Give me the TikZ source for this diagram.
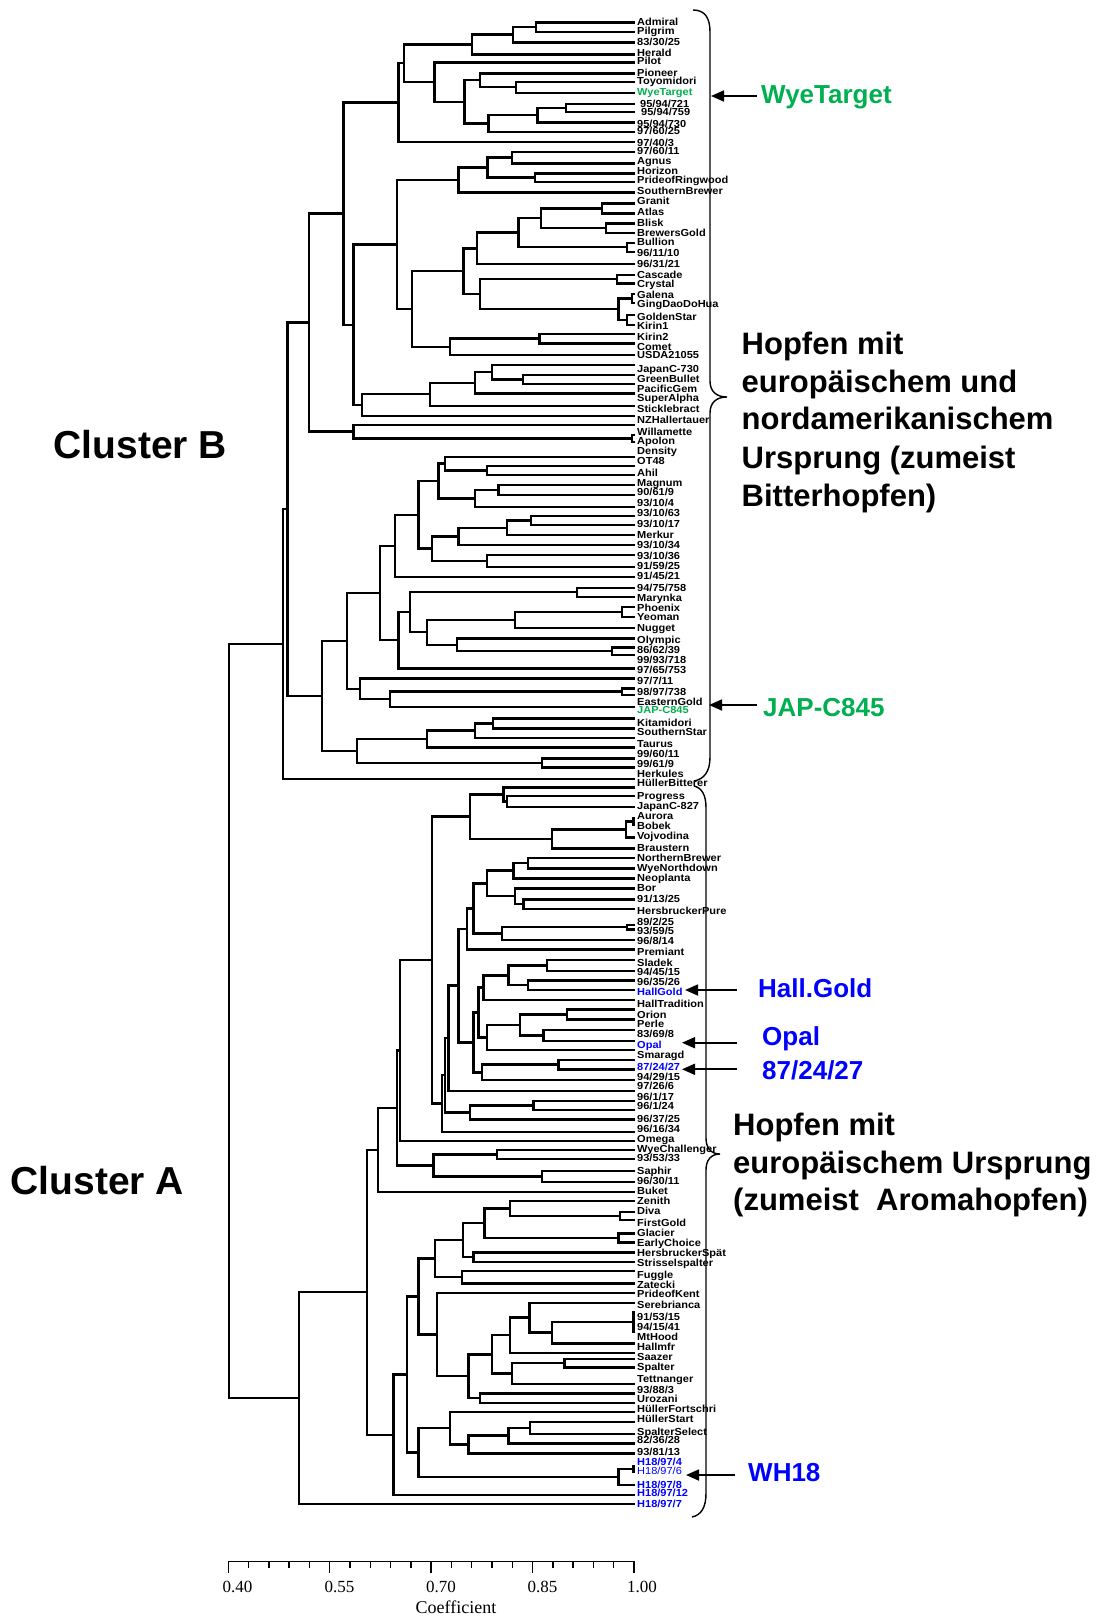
\documentclass[tikz,border=0pt]{standalone}
\usepackage{fontspec}
\setmainfont{Liberation Sans}
\newfontfamily\labf[FakeStretch=1.08]{Liberation Sans}
\newfontfamily\serf{Liberation Serif}
\usetikzlibrary{calc,arrows.meta}
\definecolor{hgreen}{RGB}{0,176,80}
\definecolor{hblue}{RGB}{0,0,255}
\newcommand{\jn}[4]{%
  \draw[dline] let \p1=(#3), \p2=(#4) in (#3) -- (#2pt,\y1) -- (#2pt,\y2) -- (#4);
  \path let \p1=(#3), \p2=(#4) in coordinate (#1) at (#2pt,{0.5*\y1+0.5*\y2});
}
\newcommand{\lf}[2]{\coordinate (#1) at (635,#2);}
\newcommand{\lb}[4][]{\node[lab,#1] (#2) at (637,#3) {#4};}
\begin{document}
\begin{tikzpicture}[x=1pt,y=-1pt,
  dline/.style={line width=2.4pt},
  lab/.style={anchor=west,inner sep=0pt,font=\labf\bfseries\fontsize{10.2}{10.2}\selectfont,text height=7.3pt,text depth=0pt},
  bigl/.style={anchor=west,inner sep=0pt,font=\bfseries\fontsize{26}{26}\selectfont,text height=18.6pt,text depth=0pt},
  desc/.style={anchor=west,inner sep=0pt,font=\bfseries\fontsize{31}{31}\selectfont,text height=22.2pt,text depth=0pt},
  clus/.style={anchor=west,inner sep=0pt,font=\bfseries\fontsize{39}{39}\selectfont,text height=27.9pt,text depth=0pt},
  axl/.style={anchor=center,inner sep=0pt,font=\serf\fontsize{17}{17}\selectfont,text height=11.5pt,text depth=0pt},
  brc/.style={line width=1.4pt},
  harr/.style={line width=1.7pt,-{Triangle[length=13pt,width=11pt]}}]
\useasboundingbox (0,0) rectangle (1102,1617);
% ---------- leaves cluster B
\lf{b1}{22.3}\lf{b2}{31.7}\lf{b3}{42.3}\lf{b4}{54.3}\lf{b5}{62.3}\lf{b6}{73.3}
\lf{b7}{81.7}\lf{b8}{92.7}\lf{b9}{104}\lf{b10}{111.7}\lf{b11}{122.3}\lf{b12}{131.7}
\lf{b13}{141.7}\lf{b14}{151.7}\lf{b15}{163.3}\lf{b16}{173.3}\lf{b17}{181.7}\lf{b18}{192.3}
\lf{b19}{203.3}\lf{b20}{213.3}\lf{b21}{223.3}\lf{b22}{232.7}\lf{b23}{242.7}\lf{b24}{251.7}
\lf{b25}{264}\lf{b26}{275}\lf{b27}{283.3}\lf{b28}{294}\lf{b29}{303}\lf{b30}{315}
\lf{b31}{325}\lf{b32}{334}\lf{b33}{343.3}\lf{b34}{355}\lf{b35}{365}\lf{b36}{375}
\lf{b37}{384}\lf{b38}{393.3}\lf{b39}{405.7}\lf{b40}{416}\lf{b41}{425}\lf{b42}{435}
\lf{b43}{441.7}\lf{b44}{456.7}\lf{b45}{466}\lf{b46}{475}\lf{b47}{485}\lf{b48}{495}
\lf{b49}{506.7}\lf{b50}{516}\lf{b51}{525}\lf{b52}{535}\lf{b53}{545}\lf{b54}{555}
\lf{b55}{566.7}\lf{b56}{576.7}\lf{b57}{587.7}\lf{b58}{596.7}\lf{b59}{606.7}\lf{b60}{616.7}
\lf{b61}{627.7}\lf{b62}{638.3}\lf{b63}{647.3}\lf{b64}{655}\lf{b65}{668.3}\lf{b66}{678.3}
\lf{b67}{688.3}\lf{b68}{695}\lf{b69}{706.7}\lf{b70}{718.3}\lf{b71}{728.3}\lf{b72}{737.7}
\lf{b73}{747.3}\lf{b74}{758.3}\lf{b75}{767.3}\lf{b76}{779}
% ---------- leaves cluster A
\lf{a1}{787.3}\lf{a2}{796}\lf{a3}{806.7}\lf{a4}{818}\lf{a5}{825}\lf{a6}{837.3}
\lf{a7}{848.3}\lf{a8}{857.7}\lf{a9}{868.3}\lf{a10}{878.3}\lf{a11}{888.3}\lf{a12}{899.3}
\lf{a13}{909}\lf{a14}{925}\lf{a15}{929.3}\lf{a16}{940}\lf{a17}{949.3}\lf{a18}{960}
\lf{a19}{971}\lf{a20}{980.3}\lf{a21}{990}\lf{a22}{1000}\lf{a23}{1009.3}\lf{a24}{1019.3}
\lf{a25}{1030}\lf{a26}{1040.7}\lf{a27}{1050}\lf{a28}{1060}\lf{a29}{1069.3}\lf{a30}{1080}
\lf{a31}{1090.7}\lf{a32}{1100.7}\lf{a33}{1110}\lf{a34}{1119.3}\lf{a35}{1131.7}\lf{a36}{1140.7}
\lf{a37}{1150}\lf{a38}{1159}\lf{a39}{1171}\lf{a40}{1181.7}\lf{a41}{1191.7}\lf{a42}{1201}
\lf{a43}{1211.7}\lf{a44}{1220}\lf{a45}{1233.3}\lf{a46}{1242.3}\lf{a47}{1252.3}\lf{a48}{1261.7}
\lf{a49}{1271}\lf{a50}{1283.3}\lf{a51}{1292.7}\lf{a52}{1302.7}\lf{a53}{1311.7}\lf{a54}{1331.7}
\lf{a55}{1343.3}\lf{a56}{1352.7}\lf{a57}{1359}\lf{a58}{1367.3}\lf{a59}{1384}\lf{a60}{1393.3}
\lf{a61}{1402.7}\lf{a62}{1411.7}\lf{a63}{1421.7}\lf{a64}{1434}\lf{a65}{1443.3}\lf{a66}{1453.3}
\lf{a67}{1466}\lf{a68}{1471.7}\lf{a69}{1485}\lf{a70}{1495}\lf{a71}{1504}
% ---------- tree cluster B
\jn{n1}{536}{b1}{b2}\jn{n2}{512.7}{n1}{b3}\jn{n3}{471.7}{n2}{b4}
\jn{n4}{515.7}{b7}{b8}\jn{n5}{480}{b6}{n4}\jn{n6}{566}{b9}{b10}
\jn{n7}{537.3}{n6}{b11}\jn{n8}{488.3}{n7}{b12}\jn{n9}{464.3}{n5}{n8}
\jn{n10}{434.3}{b5}{n9}\jn{n11}{404}{n3}{n10}\jn{n12}{398.3}{n11}{b13}
\jn{n13}{511.7}{b14}{b15}\jn{n14}{535}{b16}{b17}\jn{n15}{487.3}{n13}{n14}
\jn{n16}{458.3}{n15}{b18}\jn{n17}{601.7}{b19}{b20}\jn{n18}{606}{b21}{b22}
\jn{n19}{541}{n17}{n18}\jn{n20}{626.7}{b23}{b24}\jn{n21}{518.3}{n19}{n20}
\jn{n22}{476.7}{n21}{b25}\jn{n23}{616.7}{b26}{b27}\jn{n24}{631.7}{b28}{b29}
\jn{n25}{626.7}{b30}{b31}\jn{n26}{618.3}{n24}{n25}\jn{n27}{480}{n23}{n26}
\jn{n28}{463.3}{n22}{n27}\jn{n29}{539.3}{b32}{b33}\jn{n30}{450}{n29}{b34}
\jn{n31}{411.7}{n28}{n30}\jn{n32}{396.7}{n16}{n31}\jn{n33}{522.7}{b36}{b37}
\jn{n34}{491.7}{b35}{n33}\jn{n35}{475}{n34}{b38}\jn{n36}{430}{n35}{b39}
\jn{n37}{361.7}{n36}{b40}\jn{n38}{353.3}{n32}{n37}\jn{n39}{343.3}{n12}{n38}
\jn{n40}{631.7}{b42}{b43}\jn{n41}{353.3}{b41}{n40}\jn{n42}{309}{n39}{n41}
\jn{n43}{486.7}{b45}{b46}\jn{n44}{445}{b44}{n43}\jn{n45}{498.3}{b47}{b48}
\jn{n46}{475}{n45}{b49}\jn{n47}{438.3}{n44}{n46}\jn{n48}{531}{b50}{b51}
\jn{n49}{506.7}{n48}{b52}\jn{n50}{458.3}{n49}{b53}\jn{n51}{486.7}{b54}{b55}
\jn{n52}{431.7}{n50}{n51}\jn{n53}{418.3}{n47}{n52}\jn{n54}{395}{n53}{b56}
\jn{n55}{576.7}{b57}{b58}\jn{n56}{621.7}{b59}{b60}\jn{n57}{515}{n56}{b61}
\jn{n58}{611.7}{b63}{b64}\jn{n59}{456.7}{b62}{n58}\jn{n60}{426.7}{n57}{n59}
\jn{n61}{410}{n55}{n60}\jn{n62}{398.3}{n61}{b65}\jn{n63}{380}{n54}{n62}
\jn{n64}{621.7}{b67}{b68}\jn{n65}{390}{n64}{b69}\jn{n66}{360}{b66}{n65}
\jn{n67}{346.7}{n63}{n66}\jn{n68}{492.7}{b70}{b71}\jn{n69}{475}{n68}{b72}
\jn{n70}{426.7}{n69}{b73}\jn{n71}{541.7}{b74}{b75}\jn{n72}{356.7}{n70}{n71}
\jn{n73}{322}{n67}{n72}\jn{n74}{287.5}{n42}{n73}\jn{nB}{283}{n74}{b76}
% ---------- tree cluster A
\jn{m1}{506.7}{a2}{a3}\jn{m2}{503.3}{a1}{m1}\jn{m3}{633.3}{a4}{a5}
\jn{m4}{626}{m3}{a6}\jn{m5}{551.7}{m4}{a7}\jn{m6}{470}{m2}{m5}
\jn{m7}{527.7}{a8}{a9}\jn{m8}{513.3}{m7}{a10}\jn{m9}{523.3}{a12}{a13}
\jn{m10}{515}{a11}{m9}\jn{m11}{486.7}{m8}{m10}\jn{m12}{626.7}{a14}{a15}
\jn{m13}{501.7}{m12}{a16}\jn{m14}{473.3}{m11}{m13}\jn{m15}{466.7}{m14}{a17}
\jn{m16}{546.7}{a18}{a19}\jn{m17}{527.7}{a20}{a21}\jn{m18}{508.3}{m16}{m17}
\jn{m19}{483.3}{m18}{a22}\jn{m20}{566.7}{a23}{a24}\jn{m21}{543.3}{a25}{a26}
\jn{m22}{520}{m20}{m21}\jn{m23}{486.7}{m22}{a27}\jn{m24}{478.3}{m19}{m23}
\jn{m25}{558.3}{a28}{a29}\jn{m26}{481.7}{m25}{a30}\jn{m27}{473.3}{m24}{m26}
\jn{m28}{458.3}{m15}{m27}\jn{m29}{448.3}{m28}{a31}\jn{m30}{533.3}{a32}{a33}
\jn{m31}{470}{m30}{a34}\jn{m32}{445}{m29}{m31}\jn{m33}{441.7}{m32}{a35}
\jn{m34}{431.7}{m6}{m33}\jn{m35}{400}{m34}{a36}\jn{m36}{496.7}{a37}{a38}
\jn{m37}{541.7}{a39}{a40}\jn{m38}{433.3}{m36}{m37}\jn{m39}{396.7}{m35}{m38}
\jn{m40}{377.7}{m39}{a41}
\jn{m41}{620}{a43}{a44}\jn{m42}{510}{a42}{m41}\jn{m43}{618.3}{a45}{a46}
\jn{m44}{484.3}{m42}{m43}\jn{m45}{473.3}{a47}{a48}\jn{m46}{462.7}{m44}{m45}
\jn{m47}{461.7}{a49}{a50}\jn{m48}{435}{m46}{m47}\jn{m49}{633.3}{a53}{a54}
\jn{m50}{551.7}{m49}{a55}\jn{m51}{529.3}{a52}{m50}\jn{m52}{510}{m51}{a56}
\jn{m53}{564.3}{a57}{a58}\jn{m54}{511.7}{m53}{a59}\jn{m55}{491.7}{m52}{m54}
\jn{m56}{480}{a60}{a61}\jn{m57}{468.3}{m55}{m56}\jn{m58}{436.7}{a51}{m57}
\jn{m59}{418.3}{m48}{m58}\jn{m60}{530}{a63}{a64}\jn{m61}{508.3}{m60}{a65}
\jn{m62}{468.3}{m61}{a66}\jn{m63}{450}{a62}{m62}\jn{m64}{633.3}{a67}{a68}
\jn{m65}{618.3}{m64}{a69}\jn{m66}{418.3}{m63}{m65}\jn{m67}{406.7}{m59}{m66}
\jn{m68}{393.3}{m67}{a70}\jn{m69}{366.7}{m40}{m68}\jn{nA}{299}{m69}{a71}
\jn{root}{229}{nB}{nA}
% ---------- labels cluster B
\lb{t1}{22.3}{Admiral}\lb{t2}{30.7}{Pilgrim}\lb{t3}{42.3}{83/30/25}\lb{t4}{53.3}{Herald}
\lb{t5}{61}{Pilot}\lb{t6}{72.7}{Pioneer}\lb{t7}{80.7}{Toyomidori}
\lb[text=hgreen]{t8}{91.7}{WyeTarget}
\node[lab] (t9) at (640,104) {95/94/721};\node[lab] (t10) at (641,111.7) {95/94/759};
\lb{t11}{123.5}{95/94/730}\lb{t12}{130.7}{97/60/25}\lb{t13}{142.7}{97/40/3}
\lb{t14}{151}{97/60/11}\lb{t15}{161}{Agnus}\lb{t16}{170.7}{Horizon}
\lb{t17}{180}{PrideofRingwood}\lb{t18}{190.7}{SouthernBrewer}\lb{t19}{200.7}{Granit}
\lb{t20}{212.3}{Atlas}\lb{t21}{223.3}{Blisk}\lb{t22}{232.7}{BrewersGold}
\lb{t23}{242.3}{Bullion}\lb{t24}{252.7}{96/11/10}\lb{t25}{264}{96/31/21}
\lb{t26}{275.3}{Cascade}\lb{t27}{284.3}{Crystal}\lb{t28}{295}{Galena}
\lb{t29}{304.3}{GingDaoDoHua}\lb{t30}{316.7}{GoldenStar}\lb{t31}{326}{Kirin1}
\lb{t32}{336.7}{Kirin2}\lb{t33}{346.7}{Comet}\lb{t34}{355}{USDA21055}
\lb{t35}{369.3}{JapanC-730}\lb{t36}{379.3}{GreenBullet}\lb{t37}{389.3}{PacificGem}
\lb{t38}{398.3}{SuperAlpha}\lb{t39}{409}{Sticklebract}\lb{t40}{420}{NZHallertauer}
\lb{t41}{431.7}{Willamette}\lb{t42}{440.7}{Apolon}\lb{t43}{450.7}{Density}
\lb{t44}{460.7}{OT48}\lb{t45}{473.3}{Ahil}\lb{t46}{483.3}{Magnum}
\lb{t47}{492.3}{90/61/9}\lb{t48}{502.7}{93/10/4}\lb{t49}{513.3}{93/10/63}
\lb{t50}{524}{93/10/17}\lb{t51}{535}{Merkur}\lb{t52}{545}{93/10/34}
\lb{t53}{555.7}{93/10/36}\lb{t54}{566}{91/59/25}\lb{t55}{576}{91/45/21}
\lb{t56}{587.7}{94/75/758}\lb{t57}{597.7}{Marynka}\lb{t58}{607.7}{Phoenix}
\lb{t59}{616.7}{Yeoman}\lb{t60}{627.7}{Nugget}\lb{t61}{640}{Olympic}
\lb{t62}{650}{86/62/39}\lb{t63}{660}{99/93/718}\lb{t64}{670}{97/65/753}
\lb{t65}{680.7}{97/7/11}\lb{t66}{691.7}{98/97/738}\lb{t67}{701.7}{EasternGold}
\lb[text=hgreen]{t68}{710}{JAP-C845}\lb{t69}{723.3}{Kitamidori}\lb{t70}{732.3}{SouthernStar}
\lb{t71}{744}{Taurus}\lb{t72}{754.3}{99/60/11}\lb{t73}{764}{99/61/9}\lb{t74}{774.3}{Herkules}
% ---------- labels cluster A
\lb{s1}{783.3}{HüllerBitterer}\lb{s2}{796}{Progress}\lb{s3}{806}{JapanC-827}
\lb{s4}{816}{Aurora}\lb{s5}{826}{Bobek}\lb{s6}{836}{Vojvodina}\lb{s7}{848.3}{Braustern}
\lb{s8}{858.3}{NorthernBrewer}\lb{s9}{868.3}{WyeNorthdown}\lb{s10}{878.3}{Neoplanta}
\lb{s11}{888.3}{Bor}\lb{s12}{899.3}{91/13/25}\lb{s13}{910.7}{HersbruckerPure}
\lb{s14}{921.7}{89/2/25}\lb{s15}{931}{93/59/5}\lb{s16}{940.7}{96/8/14}
\lb{s17}{952.3}{Premiant}\lb{s18}{962.7}{Sladek}\lb{s19}{971.7}{94/45/15}
\lb{s20}{981.7}{96/35/26}\lb[text=hblue]{s21}{992.3}{HallGold}\lb{s22}{1004}{HallTradition}
\lb{s23}{1015}{Orion}\lb{s24}{1024.3}{Perle}\lb{s25}{1034.3}{83/69/8}
\lb[text=hblue]{s26}{1045}{Opal}\lb{s27}{1055}{Smaragd}\lb[text=hblue]{s28}{1066.7}{87/24/27}
\lb{s29}{1076.7}{94/29/15}\lb{s30}{1086}{97/26/6}\lb{s31}{1096.7}{96/1/17}
\lb{s32}{1106}{96/1/24}\lb{s33}{1119.3}{96/37/25}\lb{s34}{1129.3}{96/16/34}
\lb{s35}{1139.3}{Omega}\lb{s36}{1149.3}{WyeChallenger}\lb{s37}{1158.3}{93/53/33}
\lb{s38}{1171}{Saphir}\lb{s39}{1181}{96/30/11}\lb{s40}{1191}{Buket}
\lb{s41}{1201}{Zenith}\lb{s42}{1211}{Diva}\lb{s43}{1223.3}{FirstGold}
\lb{s44}{1233.3}{Glacier}\lb{s45}{1243.3}{EarlyChoice}\lb{s46}{1253.3}{HersbruckerSpät}
\lb{s47}{1262.7}{Strisselspalter}\lb{s48}{1275}{Fuggle}\lb{s49}{1285}{Zatecki}
\lb{s50}{1294.3}{PrideofKent}\lb{s51}{1305}{Serebrianca}\lb{s52}{1316.7}{91/53/15}
\lb{s53}{1327.3}{94/15/41}\lb{s54}{1336.7}{MtHood}\lb{s55}{1346.7}{Hallmfr}
\lb{s56}{1356.7}{Saazer}\lb{s57}{1367.3}{Spalter}\lb{s58}{1379}{Tettnanger}
\lb{s59}{1390}{93/88/3}\lb{s60}{1399.3}{Urozani}\lb{s61}{1409.3}{HüllerFortschri}
\lb{s62}{1419.3}{HüllerStart}\lb{s63}{1431.7}{SpalterSelect}\lb{s64}{1440}{82/36/28}
\lb{s65}{1451.7}{93/81/13}\lb[text=hblue]{s66}{1461.7}{H18/97/4}
\node[lab,text=hblue,font=\labf\fontsize{10.2}{10.2}\selectfont] (s67) at (637,1470.7) {H18/97/6};
\lb[text=hblue]{s68}{1485}{H18/97/8}\lb[text=hblue]{s69}{1493.3}{H18/97/12}
\lb[text=hblue]{s70}{1504}{H18/97/7}
% ---------- braces
\draw[brc] (693,10) .. controls (705,10) and (710,18) .. (710,32) -- (710,381)
  .. controls (710,391) and (716,397) .. (727,397) .. controls (716,397) and (710,403) .. (710,413)
  -- (710,757) .. controls (710,772) and (704,779) .. (694,781);
\draw[brc] (694,786) .. controls (702,788) and (706,795) .. (706,808) -- (706,1138)
  .. controls (706,1148) and (711,1154) .. (720,1154) .. controls (711,1154) and (706,1160) .. (706,1170)
  -- (706,1493) .. controls (706,1508) and (701,1515) .. (692,1517);
% ---------- arrows and highlighted names
\coordinate (wS) at (757,96); \coordinate (wT) at (711,96);
\coordinate (jS) at (757,705); \coordinate (jT) at (709,705);
\coordinate (hS) at (737,990); \coordinate (hT) at (685,990);
\coordinate (oS) at (737,1042.7); \coordinate (oT) at (682,1042.7);
\coordinate (pS) at (737,1069.3); \coordinate (pT) at (682,1069.3);
\coordinate (xS) at (735,1475); \coordinate (xT) at (686,1475);
\draw[harr] (wS) -- (wT); \draw[harr] (jS) -- (jT); \draw[harr] (hS) -- (hT);
\draw[harr] (oS) -- (oT); \draw[harr] (pS) -- (pT); \draw[harr] (xS) -- (xT);
\node[bigl,text=hgreen] (gW) at (761,94) {WyeTarget};
\node[bigl,text=hgreen] (gJ) at (763,707.3) {JAP-C845};
\node[bigl,text=hblue] (gH) at (758,987.7) {Hall.Gold};
\node[bigl,text=hblue] (gO) at (762,1036.2) {Opal};
\node[bigl,text=hblue] (gP) at (762,1070.2) {87/24/27};
\node[bigl,text=hblue] (gX) at (748,1472.3) {WH18};
% ---------- descriptions
\node[desc] (d1) at (741.5,343.3) {Hopfen mit};
\node[desc] (d2) at (741.5,381.5) {europäischem und};
\node[desc] (d3) at (741.5,418.6) {nordamerikanischem};
\node[desc] (d4) at (741.5,457.8) {Ursprung (zumeist};
\node[desc] (d5) at (741.5,495) {Bitterhopfen)};
\node[desc] (e1) at (733,1124) {Hopfen mit};
\node[desc] (e2) at (733,1162) {europäischem Ursprung};
\node[desc] (e3) at (733,1199) {(zumeist\ \ Aromahopfen)};
\node[clus] (cB) at (53.6,445) {Cluster B};
\node[clus] (cA) at (10.3,1180.5) {Cluster A};
% ---------- axis
\coordinate (ax0) at (228.3,1561.7); \coordinate (ax1) at (634,1561.7);
\draw[line width=1.5pt] (ax0) -- (ax1);
\foreach \i in {0,5,10,15,20} \draw[line width=1.5pt] ({228.3+\i*20.285},1561) -- ++(0,11.5);
\foreach \i in {1,2,3,4,6,7,8,9,11,12,13,14,16,17,18,19} \draw[line width=1.5pt] ({228.3+\i*20.285},1561) -- ++(0,6.5);
\node[axl] (l1) at (237.5,1586.7) {0.40};
\node[axl] (l2) at (339.5,1586.7) {0.55};
\node[axl] (l3) at (441,1586.7) {0.70};
\node[axl] (l4) at (542.5,1586.7) {0.85};
\node[axl] (l5) at (642,1586.7) {1.00};
\node[anchor=center,inner sep=0pt,font=\serf\fontsize{18}{18}\selectfont,text height=12.5pt,text depth=0pt] (cf) at (456,1607) {Coefficient};
\end{tikzpicture}
\end{document}
